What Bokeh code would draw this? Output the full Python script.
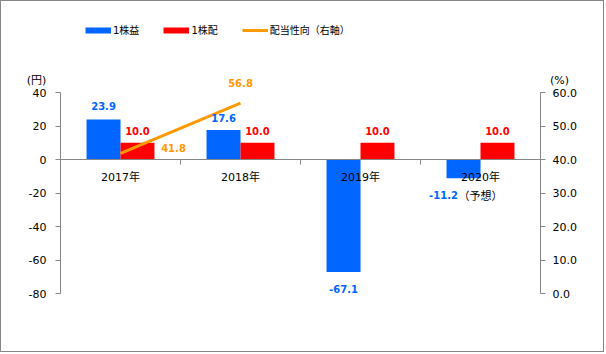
from bokeh.plotting import figure
from bokeh.models import (Range1d, LinearAxis, FixedTicker, ColumnDataSource, Legend,
                          LegendItem, Label, NumeralTickFormatter)
from bokeh.transform import dodge
from bokeh.core.properties import value
from bokeh.embed import file_html
from bokeh.resources import INLINE

# ---- data ----
categories = ["2017年", "2018年", "2019年", "2020年\n（予想）"]
eps = [23.9, 17.6, -67.1, -11.2]          # 1株益 (円)
dps = [10.0, 10.0, 10.0, 10.0]            # 1株配 (円)
payout_categories = ["2017年", "2018年"]
payout = [41.8, 56.8]                     # 配当性向 (%), right axis
yen_ticks = [-80, -60, -40, -20, 0, 20, 40]
pct_ticks = [0, 10, 20, 30, 40, 50, 60]

# ---- style / layout ----
BLUE = "#0066FF"
RED = "#FF0000"
ORANGE = "#FF9900"
AXIS = "#868686"
FONT_NAME = "DejaVu Sans, Noto Sans CJK JP"
FONT = value(FONT_NAME)

W, H = 604, 352                 # canvas (plus 1px css border each side)
PL, PR, PT, PB = 59, 539, 91, 292   # plot-area edges in canvas px
n = len(categories)
yen_lo, yen_hi = yen_ticks[0], yen_ticks[-1]
pct_lo, pct_hi = pct_ticks[0], pct_ticks[-1]
xpx = (PR - PL) / n
ypx = (PB - PT) / (yen_hi - yen_lo)
ppx = (PB - PT) / (pct_hi - pct_lo)

# label pixel offsets (style, not data)
eps_xo = [0, 0, 0, -20]
eps_yo = [-13, -12, 17, 17]
dps_yo = [-12, -12, -12, -12]
pay_xo = [53, 0]
pay_yo = [-5, -20]

centers = [i + 0.5 for i in range(n)]
pay_x = [centers[categories.index(c)] for c in payout_categories]

x_lo = -PL / xpx
p = figure(width=W, height=H, output_backend="svg", toolbar_location=None,
           x_range=Range1d(x_lo, n + (W - PR) / xpx),
           y_range=Range1d(yen_lo - (H - PB) / ypx, yen_hi + PT / ypx),
           x_axis_location=None, y_axis_location=None, min_border=0)
p.styles = {"border": "1px solid #868686"}
p.extra_y_ranges = {"pct": Range1d(pct_lo - (H - PB) / ppx, pct_hi + PT / ppx)}
p.xgrid.visible = False
p.ygrid.visible = False
p.outline_line_color = None
p.background_fill_color = "white"
p.border_fill_color = "white"

src = ColumnDataSource(dict(x=centers, eps=eps, dps=dps,
                            eps_t=["%.1f" % v for v in eps],
                            dps_t=["%.1f" % v for v in dps],
                            eps_xo=eps_xo, eps_yo=eps_yo, dps_yo=dps_yo,
                            cat=categories, zero=[0] * n))
psrc = ColumnDataSource(dict(x=pay_x, y=payout, t=["%.1f" % v for v in payout],
                             xo=pay_xo, yo=pay_yo))

BW = 0.283
p.vbar(x=dodge("x", -BW / 2, range=p.x_range), top="eps", bottom=0, width=BW,
       fill_color=BLUE, line_color=None, source=src)
p.vbar(x=dodge("x", BW / 2, range=p.x_range), top="dps", bottom=0, width=BW,
       fill_color=RED, line_color=None, source=src)
p.line(x="x", y="y", y_range_name="pct", line_color=ORANGE, line_width=3, source=psrc)

common = dict(major_tick_in=0, major_tick_out=5, minor_tick_in=0, minor_tick_out=0,
              axis_line_color=AXIS, major_tick_line_color=AXIS,
              major_label_text_font=FONT_NAME, major_label_text_font_size="11px",
              major_label_text_color="#000000")

lax = LinearAxis(fixed_location=0, ticker=FixedTicker(ticks=yen_ticks),
                 bounds=(yen_lo, yen_hi),
                 major_label_overrides={t: str(t) for t in yen_ticks},
                 major_label_standoff=9, **common)
p.add_layout(lax, "left")

rax = LinearAxis(fixed_location=n, y_range_name="pct", ticker=FixedTicker(ticks=pct_ticks),
                 bounds=(pct_lo, pct_hi), formatter=NumeralTickFormatter(format="0.0"),
                 major_label_standoff=7, **common)
p.add_layout(rax, "right")

xax = LinearAxis(fixed_location=0, ticker=FixedTicker(ticks=list(range(1, n))),
                 bounds=(0, n), major_tick_in=0, major_tick_out=5,
                 minor_tick_in=0, minor_tick_out=0,
                 axis_line_color=AXIS, major_tick_line_color=AXIS,
                 major_label_overrides={i: "" for i in range(1, n)},
                 major_label_text_font_size="11px")
p.add_layout(xax, "below")

# category labels
p.text(x="x", y="zero", text="cat", source=src, text_font=FONT, text_font_size="11px",
       text_align="center", text_baseline="top", y_offset=11, text_line_height=1.5,
       text_color="#000000")

# data labels
p.text(x=dodge("x", -BW / 2, range=p.x_range), y="eps", text="eps_t", source=src,
       x_offset="eps_xo", y_offset="eps_yo", text_font=FONT, text_font_size="10px",
       text_font_style="bold", text_color=BLUE, text_align="center", text_baseline="middle")
p.text(x=dodge("x", BW / 2, range=p.x_range), y="dps", text="dps_t", source=src,
       y_offset="dps_yo", text_font=FONT, text_font_size="10px",
       text_font_style="bold", text_color=RED, text_align="center", text_baseline="middle")
p.text(x="x", y="y", text="t", source=psrc, y_range_name="pct", x_offset="xo", y_offset="yo",
       text_font=FONT, text_font_size="10px", text_font_style="bold", text_color=ORANGE,
       text_align="center", text_baseline="middle")

# unit labels (screen px from plot bottom-left)
p.add_layout(Label(x=35, y=H - 79, x_units="screen", y_units="screen", text="(円)",
                   text_font=FONT_NAME, text_font_size="11px", text_align="center",
                   text_baseline="middle", text_color="#000000"))
p.add_layout(Label(x=558, y=H - 79, x_units="screen", y_units="screen", text="(%)",
                   text_font=FONT_NAME, text_font_size="11px", text_align="center",
                   text_baseline="middle", text_color="#000000"))

# legend (sample renderers kept off-canvas; only their legend glyphs show)
off = [x_lo - 2, x_lo - 1]
l1 = p.line(off, [0, 0], line_color=BLUE, line_width=6)
l2 = p.line(off, [0, 0], line_color=RED, line_width=6)
l3 = p.line(off, [0, 0], line_color=ORANGE, line_width=3)
legend = Legend(items=[LegendItem(label="1株益", renderers=[l1]),
                       LegendItem(label="1株配", renderers=[l2]),
                       LegendItem(label="配当性向（右軸）", renderers=[l3])],
                orientation="horizontal", location=(84, H - 36), glyph_width=26,
                glyph_height=12, label_height=12, label_standoff=2, spacing=24,
                padding=0, margin=0, border_line_alpha=0, background_fill_alpha=0,
                label_text_font=FONT_NAME, label_text_font_size="10px",
                label_text_color="#000000")
p.add_layout(legend, "center")

open("out.html", "w").write(file_html(p, INLINE))
